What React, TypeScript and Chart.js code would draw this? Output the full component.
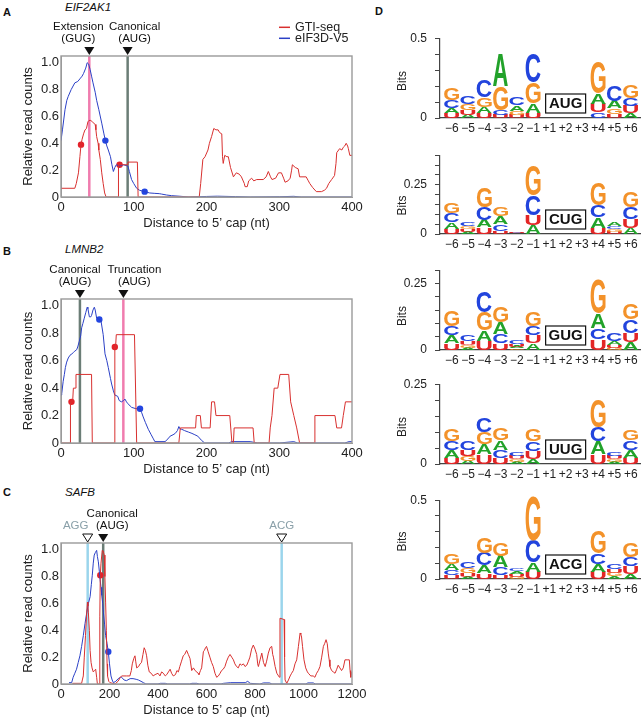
import React, { useEffect, useRef } from 'react';
import { Chart, registerables } from 'chart.js';

Chart.register(...registerables);

const FONT = '"Liberation Sans", Arial, Helvetica, sans-serif';

// ---------- Panel A : EIF2AK1 ----------
const aRedX = [0, 19, 21, 24, 26, 27.5, 29, 31, 33, 35, 37, 38.5, 41, 43, 47, 48, 49, 51, 52, 54, 56, 58, 60, 62, 79, 79, 92, 92, 105, 106, 190, 192, 195, 198, 202, 204, 207, 210, 213, 216, 218, 221, 222, 223, 225, 228, 230, 233, 237, 241, 245, 248, 252, 253, 256, 258, 262, 265, 269, 278, 282, 285, 288, 290, 295, 299, 303, 306, 308, 312, 315, 317, 318, 322, 326, 328, 337, 340, 342, 346, 351, 358, 362, 365, 368, 372, 376, 378, 379, 383, 386, 388, 390, 392, 394, 395, 397, 400];
const aRedY = [0.065, 0.065, 0.1, 0.18, 0.3, 0.39, 0.43, 0.47, 0.5, 0.51, 0.56, 0.57, 0.57, 0.56, 0.54, 0.5, 0.45, 0.4, 0.35, 0.28, 0.18, 0.1, 0.03, 0, 0, 0.24, 0.24, 0.26, 0.26, 0, 0, 0.1, 0.28, 0.3, 0.35, 0.4, 0.45, 0.51, 0.5, 0.5, 0.48, 0.47, 0.3, 0.25, 0.31, 0.3, 0.3, 0.22, 0.15, 0.18, 0.17, 0.15, 0.1, 0.077, 0.077, 0.12, 0.14, 0.12, 0.13, 0.13, 0.15, 0.19, 0.15, 0.13, 0.14, 0.18, 0.18, 0.14, 0.11, 0.12, 0.14, 0.2, 0.24, 0.22, 0.21, 0.15, 0.15, 0.12, 0.1, 0.07, 0.04, 0.04, 0.05, 0.065, 0.1, 0.13, 0.16, 0.25, 0.33, 0.36, 0.35, 0.37, 0.38, 0.4, 0.38, 0.36, 0.31, 0.31];
const aBlueX = [0, 2, 5.5, 8, 10, 14, 19, 23, 26, 29, 31, 34, 36, 38, 40, 42, 44, 47, 49, 52, 56, 59, 61, 63, 65, 68, 70, 72, 74, 76, 80, 86, 92, 94, 97, 100, 104, 108, 115, 122, 129, 135, 138, 145, 152, 165, 175, 200, 215, 240, 260, 300, 320, 330, 400];
const aBlueY = [0.42, 0.5, 0.65, 0.72, 0.75, 0.8, 0.85, 0.86, 0.88, 0.9, 0.92, 0.96, 1.0, 0.99, 0.95, 0.9, 0.85, 0.78, 0.72, 0.65, 0.55, 0.47, 0.42, 0.38, 0.35, 0.3, 0.24, 0.19, 0.22, 0.24, 0.23, 0.24, 0.23, 0.19, 0.13, 0.1, 0.065, 0.05, 0.04, 0.03, 0.027, 0.025, 0.022, 0.015, 0.01, 0.005, 0, 0.004, 0.006, 0.003, 0, 0.002, 0.005, 0, 0];
const aRedDotX = [27.5, 80.5];
const aRedDotY = [0.39, 0.24];
const aBlueDotX = [61, 115];
const aBlueDotY = [0.42, 0.04];
const aMarkX = [38.9, 91.6];
const aMarkText = [['Extension', '(GUG)'], ['Canonical', '(AUG)']];

// ---------- Panel B : LMNB2 ----------
const bRedX = [0, 13, 13, 16, 17, 20, 20.6, 42, 43, 73, 74, 75, 76, 101, 104, 162, 164, 185, 186, 191.5, 193, 205, 207, 211, 213, 232, 235, 237, 238, 264, 265.6, 286, 287.6, 290, 293, 298, 301, 313, 315.7, 320, 324, 328, 348, 349, 376.6, 379, 385.6, 388, 391, 400];
const bRedY = [0, 0, 0.3, 0.3, 0.4, 0.4, 0.5, 0.5, 0, 0, 0.7, 0.7, 0.79, 0.79, 0, 0, 0.11, 0.11, 0.2, 0.2, 0.11, 0.11, 0.3, 0.3, 0.2, 0.2, 0, 0, 0.11, 0.11, 0, 0, 0.11, 0.2, 0.4, 0.4, 0.5, 0.5, 0.3, 0.2, 0.11, 0, 0, 0.2, 0.2, 0.11, 0.11, 0.2, 0.3, 0.3];
const bBlueX = [0, 1, 3, 4.6, 6, 7.8, 10, 12.4, 15, 17, 19, 21.5, 23, 25, 27, 28.4, 30, 32, 34, 36, 37, 39, 41, 42, 44, 45.8, 47, 49, 52.7, 55, 58, 60.5, 63, 65, 68, 69.6, 72, 74, 78, 80, 83, 86, 88, 90, 91.5, 95, 97, 103, 108.6, 111, 113, 116, 120, 124, 127, 129, 143, 147, 150, 154, 157, 160, 162, 164, 166, 170, 175, 180, 184, 188, 193, 197.5, 230, 235, 260, 270, 300, 320, 325, 390, 396, 400];
const bBlueY = [0.35, 0.36, 0.45, 0.5, 0.55, 0.59, 0.62, 0.64, 0.65, 0.66, 0.67, 0.68, 0.7, 0.74, 0.78, 0.84, 0.87, 0.91, 0.95, 0.99, 0.98, 0.92, 0.92, 0.93, 0.97, 0.99, 0.97, 0.91, 0.9, 0.89, 0.79, 0.65, 0.6, 0.55, 0.47, 0.43, 0.38, 0.35, 0.34, 0.31, 0.3, 0.31, 0.32, 0.3, 0.29, 0.27, 0.26, 0.25, 0.25, 0.22, 0.19, 0.15, 0.1, 0.06, 0.03, 0.01, 0.01, 0.03, 0.05, 0.06, 0.07, 0.09, 0.12, 0.1, 0.1, 0.09, 0.08, 0.07, 0.06, 0.05, 0.02, 0, 0, 0.01, 0.01, 0, 0, 0.01, 0, 0, 0.01, 0.01];
const bRedDotX = [14.4, 74];
const bRedDotY = [0.3, 0.7];
const bBlueDotX = [52.7, 108.6];
const bBlueDotY = [0.9, 0.25];
const bMarkX = [26, 85.7];
const bMarkText = [['Canonical', '(AUG)'], ['Truncation', '(AUG)']];

// ---------- Panel C : SAFB ----------
const cRedX = [47, 85, 88, 92, 96, 101, 105, 109, 111, 113, 117, 120, 124, 128, 133, 138, 143, 147, 150, 158, 160, 162, 165, 170, 174, 178, 181, 184, 187, 190, 192, 197, 202, 223, 235, 245, 250, 270, 284, 290, 294, 300, 305, 308, 312, 320, 326, 332, 338, 343, 348, 353, 358, 364, 372, 380, 388, 400, 408, 415, 422, 430, 436, 443, 450, 456, 463, 472, 478, 484, 490, 497, 504, 510, 518, 525, 532, 539, 546, 553, 560, 565, 569, 575, 580, 587, 591, 596, 600, 607, 614, 621, 628, 635, 642, 649, 656, 662, 669, 676, 683, 690, 697, 704, 711, 717, 724, 731, 738, 745, 752, 759, 766, 773, 779, 786, 793, 800, 807, 811, 814, 821, 828, 835, 842, 848, 855, 862, 869, 873, 876, 883, 890, 897, 901, 903, 920, 922, 924, 931, 938, 945, 951, 958, 965, 972, 979, 986, 989, 992, 996, 1002, 1009, 1016, 1020, 1030, 1040, 1047, 1054, 1061, 1068, 1075, 1082, 1087, 1093, 1098, 1102, 1106, 1109, 1116, 1123, 1130, 1137, 1143, 1150, 1157, 1164, 1171, 1180, 1189, 1192, 1195, 1198, 1200];
const cRedY = [0.005, 0.005, 0.03, 0.06, 0.2, 0.36, 0.5, 0.61, 0.58, 0.53, 0.4, 0.25, 0.16, 0.12, 0.09, 0.1, 0.11, 0.05, 0, 0, 0.5, 0.81, 0.9, 0.995, 0.99, 0.96, 0.8, 0.61, 0.4, 0.15, 0.06, 0.02, 0.01, 0, 0.02, 0.05, 0.06, 0.06, 0.06, 0.1, 0.15, 0.19, 0.21, 0.17, 0.12, 0.13, 0.15, 0.16, 0.22, 0.27, 0.25, 0.21, 0.14, 0.09, 0.08, 0.06, 0.07, 0.08, 0.06, 0.09, 0.08, 0.06, 0.07, 0.09, 0.11, 0.08, 0.06, 0.07, 0.1, 0.09, 0.13, 0.17, 0.21, 0.22, 0.25, 0.22, 0.19, 0.1, 0.12, 0.1, 0.09, 0.08, 0.07, 0.1, 0.12, 0.24, 0.25, 0.27, 0.28, 0.24, 0.2, 0.16, 0.13, 0.08, 0.05, 0.06, 0.08, 0.1, 0.11, 0.13, 0.17, 0.2, 0.22, 0.2, 0.18, 0.15, 0.13, 0.12, 0.15, 0.14, 0.15, 0.13, 0.14, 0.17, 0.2, 0.26, 0.29, 0.26, 0.22, 0.15, 0.13, 0.18, 0.23, 0.16, 0.13, 0.17, 0.23, 0.27, 0.28, 0.22, 0.2, 0.13, 0.08, 0.06, 0.05, 0.49, 0.48, 0.2, 0.03, 0.005, 0.03, 0.06, 0.08, 0.1, 0.15, 0.18, 0.28, 0.38, 0.37, 0.35, 0.28, 0.18, 0.12, 0.09, 0.08, 0.06, 0.06, 0.05, 0.08, 0.1, 0.13, 0.2, 0.28, 0.3, 0.33, 0.3, 0.23, 0.18, 0.13, 0.1, 0.09, 0.08, 0.11, 0.14, 0.12, 0.1, 0.12, 0.18, 0.18, 0.18, 0.1, 0.05, 0.08, 0.09];
const cBlueX = [33, 44, 50, 57, 64, 71, 78, 85, 92, 99, 106, 113, 120, 125, 129, 133, 137, 142, 147, 150, 154, 158, 161, 165, 168, 172, 175, 180, 184, 190, 195, 200, 206, 211, 216, 226, 236, 245, 250, 260, 270, 285, 297, 310, 319, 330, 340, 350, 400, 410, 430, 440, 530, 540, 560, 570, 660, 670, 700, 760, 770, 780, 820, 835, 860, 870, 1010, 1018, 1040, 1050, 1200];
const cBlueY = [0.01, 0.01, 0.05, 0.08, 0.11, 0.16, 0.21, 0.28, 0.36, 0.45, 0.53, 0.6, 0.65, 0.74, 0.81, 0.9, 0.96, 0.98, 0.995, 0.95, 0.91, 0.84, 0.78, 0.72, 0.66, 0.6, 0.53, 0.44, 0.36, 0.3, 0.24, 0.15, 0.06, 0.03, 0.01, 0.02, 0.04, 0.05, 0.05, 0.03, 0.025, 0.04, 0.04, 0.035, 0.03, 0.02, 0.01, 0, 0, 0.005, 0.005, 0, 0, 0.005, 0.005, 0, 0, 0.005, 0.01, 0.01, 0.02, 0.005, 0, 0.008, 0.008, 0, 0, 0.008, 0.008, 0, 0];
const cRedDotX = [162];
const cRedDotY = [0.81];
const cBlueDotX = [195];
const cBlueDotY = [0.24];
const cMarkX = [110, 174, 910];
const cMarkText = [['AGG'], ['Canonical', '(AUG)'], ['ACG']];

// ---------- Panel D : sequence logos ----------
const logoPositions = ['\u22126', '\u22125', '\u22124', '\u22123', '\u22122', '\u22121', '+1', '+2', '+3', '+4', '+5', '+6'];
const logoLetters = ['A', 'C', 'G', 'U'];

const augA = [0.035, 0.02, 0.04, 0.2, 0.035, 0.06, 0, 0, 0, 0.065, 0.045, 0.03];
const augC = [0.045, 0.05, 0.11, 0.03, 0.045, 0.18, 0, 0, 0, 0.035, 0.095, 0.05];
const augG = [0.075, 0.04, 0.06, 0.15, 0.025, 0.13, 0, 0, 0, 0.2, 0.035, 0.085];
const augU = [0.03, 0.03, 0.03, 0.02, 0.02, 0.03, 0, 0, 0, 0.055, 0.025, 0.045];

const cugA = [0.035, 0.01, 0.037, 0.04, 0.002, 0.045, 0, 0, 0, 0.055, 0.018, 0.03];
const cugC = [0.045, 0.022, 0.065, 0.035, 0.003, 0.1, 0, 0, 0, 0.06, 0.016, 0.06];
const cugG = [0.055, 0.016, 0.1, 0.045, 0.002, 0.155, 0, 0, 0, 0.115, 0.014, 0.08];
const cugU = [0.025, 0.015, 0.035, 0.015, 0.004, 0.05, 0, 0, 0, 0.03, 0.012, 0.045];

const gugA = [0.03, 0.008, 0.038, 0.045, 0.007, 0.025, 0, 0, 0, 0.055, 0.015, 0.03];
const gugC = [0.035, 0.022, 0.08, 0.035, 0.012, 0.035, 0, 0, 0, 0.041, 0.03, 0.05];
const gugG = [0.06, 0.01, 0.07, 0.06, 0.006, 0.055, 0, 0, 0, 0.13, 0.008, 0.06];
const gugU = [0.025, 0.015, 0.035, 0.025, 0.01, 0.03, 0, 0, 0, 0.04, 0.01, 0.035];

const uugA = [0.025, 0.01, 0.032, 0.03, 0.006, 0.015, 0, 0, 0, 0.04, 0.006, 0.025];
const uugC = [0.028, 0.03, 0.045, 0.025, 0.011, 0.03, 0, 0, 0, 0.045, 0.012, 0.03];
const uugG = [0.035, 0.015, 0.038, 0.035, 0.008, 0.035, 0, 0, 0, 0.085, 0.008, 0.032];
const uugU = [0.02, 0.02, 0.03, 0.02, 0.01, 0.025, 0, 0, 0, 0.03, 0.01, 0.02];

const acgA = [0.04, 0.015, 0.05, 0.07, 0.018, 0.06, 0, 0, 0, 0.05, 0.018, 0.03];
const acgC = [0.03, 0.04, 0.08, 0.05, 0.02, 0.14, 0, 0, 0, 0.07, 0.035, 0.06];
const acgG = [0.07, 0.03, 0.1, 0.08, 0.014, 0.28, 0, 0, 0, 0.14, 0.022, 0.09];
const acgU = [0.025, 0.025, 0.035, 0.025, 0.016, 0.045, 0, 0, 0, 0.045, 0.026, 0.05];

// ---------- styles ----------
const RED = '#d8302f';
const BLUE = '#2b40c6';
const RED_DOT = '#e4222a';
const BLUE_DOT = '#2346e2';
const PINK = '#f07cae';
const GRAYLINE = '#6b7d76';
const CYAN = '#9bd5ec';
const LABEL_GRAY = '#8aa0a9';
const LETTER_COLORS: Record<string, string> = { A: '#22a22a', C: '#2244dd', G: '#f3922a', U: '#e32626' };

type MarkStyle = { color: string; hollow: boolean; dx: number; textColor: string };

const aMarkStyle: MarkStyle[] = [
  { color: PINK, hollow: false, dx: -11, textColor: '#111' },
  { color: GRAYLINE, hollow: false, dx: 7, textColor: '#111' },
];
const bMarkStyle: MarkStyle[] = [
  { color: GRAYLINE, hollow: false, dx: -5, textColor: '#111' },
  { color: PINK, hollow: false, dx: 11, textColor: '#111' },
];
const cMarkStyle: MarkStyle[] = [
  { color: CYAN, hollow: true, dx: -12, textColor: LABEL_GRAY },
  { color: GRAYLINE, hollow: false, dx: 9, textColor: '#111' },
  { color: CYAN, hollow: true, dx: 0, textColor: LABEL_GRAY },
];

function pts(xs: number[], ys: number[]) {
  return xs.map((x, i) => ({ x, y: ys[i] }));
}

type TraceProps = {
  top: number;
  height: number;
  padTop: number;
  xMax: number;
  xStep: number;
  redX: number[];
  redY: number[];
  blueX: number[];
  blueY: number[];
  redDotX: number[];
  redDotY: number[];
  blueDotX: number[];
  blueDotY: number[];
  markX: number[];
  markText: string[][];
  markStyle: MarkStyle[];
  legend: boolean;
};

function TraceChart(p: TraceProps) {
  const ref = useRef<HTMLCanvasElement | null>(null);
  useEffect(() => {
    if (!ref.current) return;
    const decor = {
      id: 'traceDecor',
      beforeDatasetsDraw(chart: any) {
        const { ctx, chartArea: ca, scales } = chart;
        const x = scales.x;
        ctx.save();
        ctx.beginPath();
        ctx.rect(ca.left, ca.top, ca.right - ca.left, ca.bottom - ca.top);
        ctx.clip();
        p.markX.forEach((mx, i) => {
          const px = x.getPixelForValue(mx);
          ctx.strokeStyle = p.markStyle[i].color;
          ctx.lineWidth = 2.5;
          ctx.beginPath();
          ctx.moveTo(px, ca.top);
          ctx.lineTo(px, ca.bottom);
          ctx.stroke();
        });
        ctx.restore();
      },
      afterDraw(chart: any) {
        const { ctx, chartArea: ca, scales } = chart;
        const x = scales.x;
        ctx.save();
        ctx.strokeStyle = '#9a9a9a';
        ctx.lineWidth = 1.4;
        ctx.strokeRect(ca.left, ca.top, ca.right - ca.left, ca.bottom - ca.top);
        p.markX.forEach((mx, i) => {
          const st = p.markStyle[i];
          const px = x.getPixelForValue(mx);
          ctx.beginPath();
          ctx.moveTo(px - 5, ca.top - 9);
          ctx.lineTo(px + 5, ca.top - 9);
          ctx.lineTo(px, ca.top - 1);
          ctx.closePath();
          if (st.hollow) {
            ctx.fillStyle = '#fff';
            ctx.fill();
            ctx.strokeStyle = '#111';
            ctx.lineWidth = 1;
            ctx.stroke();
          } else {
            ctx.fillStyle = '#111';
            ctx.fill();
          }
          const lines = p.markText[i];
          ctx.fillStyle = st.textColor;
          ctx.font = `11.5px ${FONT}`;
          ctx.textAlign = 'center';
          ctx.textBaseline = 'middle';
          const n = lines.length;
          lines.forEach((t, k) => {
            const yy = ca.top - 17.5 - (n - 1 - k) * 12;
            ctx.fillText(t, px + st.dx, yy);
          });
        });
        if (p.legend) {
          const ds = chart.data.datasets;
          ctx.font = `12.5px ${FONT}`;
          ctx.textAlign = 'left';
          ctx.textBaseline = 'middle';
          [0, 1].forEach((k) => {
            const yy = 27.3 + k * 11;
            ctx.strokeStyle = ds[k].borderColor;
            ctx.lineWidth = 1.5;
            ctx.beginPath();
            ctx.moveTo(279, yy);
            ctx.lineTo(290, yy);
            ctx.stroke();
            ctx.fillStyle = '#222';
            ctx.fillText(ds[k].label, 295, yy);
          });
        }
        ctx.restore();
      },
    };
    const chart = new Chart(ref.current, {
      type: 'line',
      data: {
        datasets: [
          { label: 'GTI-seq', data: pts(p.redX, p.redY), borderColor: RED, borderWidth: 1, pointRadius: 0, tension: 0 },
          { label: 'eIF3D-V5', data: pts(p.blueX, p.blueY), borderColor: BLUE, borderWidth: 1, pointRadius: 0, tension: 0 },
          { label: 'GTI-seq peak', data: pts(p.redDotX, p.redDotY), showLine: false, pointRadius: 3.2, pointBackgroundColor: RED_DOT, pointBorderWidth: 0, borderColor: RED_DOT },
          { label: 'eIF3D peak', data: pts(p.blueDotX, p.blueDotY), showLine: false, pointRadius: 3.2, pointBackgroundColor: BLUE_DOT, pointBorderWidth: 0, borderColor: BLUE_DOT },
        ],
      },
      options: {
        animation: false,
        responsive: false,
        maintainAspectRatio: false,
        layout: { padding: { top: p.padTop, right: 18, left: 17, bottom: 0 } },
        plugins: { legend: { display: false }, tooltip: { enabled: false } },
        scales: {
          x: {
            type: 'linear',
            min: 0,
            max: p.xMax,
            ticks: {
              stepSize: p.xStep,
              font: { size: 13, family: FONT },
              color: '#222',
              padding: 3,
              maxRotation: 0,
              autoSkip: false,
              includeBounds: false,
              callback: (v: any) => String(v),
            },
            grid: { drawOnChartArea: false, drawTicks: false },
            border: { color: '#9a9a9a', width: 1 },
            title: { display: true, text: 'Distance to 5\u2019 cap (nt)', font: { size: 13, family: FONT }, color: '#222', padding: { top: 0, bottom: 4 } },
            afterFit: (s: any) => { s.height = 38; },
          },
          y: {
            type: 'linear',
            min: 0,
            max: 1.05,
            ticks: {
              stepSize: 0.2,
              includeBounds: false,
              font: { size: 13, family: FONT },
              color: '#222',
              padding: 2,
              callback: (v: any) => (v === 0 ? '0' : Number(v).toFixed(1)),
            },
            grid: { drawOnChartArea: false, drawTicks: false },
            border: { color: '#9a9a9a', width: 1 },
            title: { display: true, text: 'Relative read counts', font: { size: 13, family: FONT }, color: '#222', padding: { top: 4, bottom: 0 } },
            afterFit: (s: any) => { s.width = 44; },
          },
        },
      } as any,
      plugins: [decor],
    });
    return () => chart.destroy();
  }, []);
  return (
    <canvas
      ref={ref}
      width={370}
      height={p.height}
      style={{ position: 'absolute', left: 0, top: p.top, width: 370, height: p.height }}
    />
  );
}

function drawLetter(ctx: CanvasRenderingContext2D, ch: string, x: number, y: number, w: number, h: number, color: string) {
  if (h < 0.25 || w <= 0) return;
  ctx.save();
  ctx.font = `bold 100px ${FONT}`;
  ctx.textAlign = 'left';
  ctx.textBaseline = 'alphabetic';
  const m = ctx.measureText(ch);
  const gw = m.actualBoundingBoxLeft + m.actualBoundingBoxRight;
  const gh = m.actualBoundingBoxAscent + m.actualBoundingBoxDescent;
  ctx.translate(x, y);
  ctx.scale(w / gw, h / gh);
  ctx.fillStyle = color;
  ctx.fillText(ch, m.actualBoundingBoxLeft, m.actualBoundingBoxAscent);
  ctx.restore();
}

type LogoProps = {
  plotTop: number;
  plotBottom: number;
  yMax: number;
  yStep: number;
  yLabel: number;
  titleShift: number;
  codon: string;
  A: number[];
  C: number[];
  G: number[];
  U: number[];
};

function LogoChart(p: LogoProps) {
  const ref = useRef<HTMLCanvasElement | null>(null);
  const padTop = 12;
  const xAxisH = 22;
  const canvasTop = p.plotTop - padTop;
  const height = p.plotBottom - p.plotTop + padTop + xAxisH;
  useEffect(() => {
    if (!ref.current) return;
    const letters = {
      id: 'logoLetters',
      afterDatasetsDraw(chart: any) {
        const { ctx, scales } = chart;
        const x = scales.x;
        const y = scales.y;
        const ds = chart.data.datasets;
        for (let i = 0; i < logoPositions.length; i++) {
          const items = ds
            .map((d: any) => ({ L: d.label, h: d.data[i].y }))
            .filter((o: any) => o.h > 0)
            .sort((a: any, b: any) => a.h - b.h);
          let cum = 0;
          const xl = x.getPixelForValue(i - 0.46);
          const xr = x.getPixelForValue(i + 0.46);
          items.forEach((o: any) => {
            const yb = y.getPixelForValue(cum);
            const yt = y.getPixelForValue(cum + o.h);
            cum += o.h;
            drawLetter(ctx, o.L, xl, yt, xr - xl, yb - yt, LETTER_COLORS[o.L]);
          });
        }
        // codon box
        const xc = x.getPixelForValue(7);
        const y0 = y.getPixelForValue(0);
        ctx.save();
        ctx.strokeStyle = '#111';
        ctx.lineWidth = 1.2;
        ctx.strokeRect(xc - 20, y0 - 24, 40, 19);
        ctx.fillStyle = '#111';
        ctx.font = `bold 15px ${FONT}`;
        ctx.textAlign = 'center';
        ctx.textBaseline = 'middle';
        ctx.fillText(p.codon, xc, y0 - 14.2);
        // axis title
        ctx.font = `12px ${FONT}`;
        ctx.fillStyle = '#222';
        ctx.translate(y.left + 11, (y.top + y.bottom) / 2 + p.titleShift);
        ctx.rotate(-Math.PI / 2);
        ctx.fillText('Bits', 0, 0);
        ctx.restore();
      },
    };
    const sets = [p.A, p.C, p.G, p.U];
    const chart = new Chart(ref.current, {
      type: 'bar',
      data: {
        datasets: logoLetters.map((L, k) => ({
          label: L,
          data: sets[k].map((v, i) => ({ x: i, y: v })),
          backgroundColor: 'rgba(0,0,0,0)',
          borderWidth: 0,
          stack: 'logo',
        })),
      },
      options: {
        animation: false,
        responsive: false,
        maintainAspectRatio: false,
        layout: { padding: { top: padTop, right: 2, left: 12, bottom: 0 } },
        plugins: { legend: { display: false }, tooltip: { enabled: false } },
        scales: {
          x: {
            type: 'linear',
            stacked: true,
            offset: false,
            min: -0.72,
            max: 11.57,
            ticks: {
              stepSize: 1,
              includeBounds: false,
              autoSkip: false,
              maxRotation: 0,
              font: { size: 12, family: FONT },
              color: '#222',
              padding: 3,
              callback: (v: any) => logoPositions[v] ?? '',
            },
            grid: { display: false, drawTicks: false, offset: false },
            border: { display: true, color: '#444', width: 1.2 },
            afterFit: (s: any) => { s.height = xAxisH; },
          },
          y: {
            type: 'linear',
            stacked: true,
            min: 0,
            max: p.yMax,
            ticks: {
              stepSize: p.yStep,
              includeBounds: false,
              autoSkip: false,
              font: { size: 12, family: FONT },
              color: '#222',
              padding: 8,
              callback: (v: any) => (v === 0 ? '0' : Math.abs(v - p.yLabel) < 1e-6 ? String(p.yLabel) : ''),
            },
            grid: { drawOnChartArea: false, drawTicks: true, tickLength: 5, color: '#444' },
            border: { display: true, color: '#444', width: 1.2 },
            afterFit: (s: any) => { s.width = 48; },
          },
        },
      } as any,
      plugins: [letters],
    });
    return () => chart.destroy();
  }, []);
  return (
    <canvas
      ref={ref}
      width={262}
      height={height}
      style={{ position: 'absolute', left: 380, top: canvasTop, width: 262, height }}
    />
  );
}

function Label(props: { text: string; left: number; cy: number; size: number; bold?: boolean; italic?: boolean }) {
  const h = props.size;
  return (
    <div
      style={{
        position: 'absolute',
        left: props.left,
        top: props.cy - h / 2,
        height: h,
        lineHeight: `${h}px`,
        fontSize: props.size,
        fontFamily: FONT,
        fontWeight: props.bold ? 'bold' : 'normal',
        fontStyle: props.italic ? 'italic' : 'normal',
        color: '#111',
        whiteSpace: 'nowrap',
      }}
    >
      {props.text}
    </div>
  );
}

export default function App() {
  return (
    <div style={{ position: 'absolute', left: 0, top: 0, width: 642, height: 717, background: '#fff', overflow: 'hidden' }}>
      <Label text="A" left={3} cy={12.5} size={11} bold />
      <Label text="EIF2AK1" left={65} cy={7.5} size={11.5} italic />
      <Label text="B" left={3} cy={251.7} size={11} bold />
      <Label text="LMNB2" left={65} cy={250} size={11.5} italic />
      <Label text="C" left={3} cy={492} size={11} bold />
      <Label text="SAFB" left={65} cy={492.5} size={11.5} italic />
      <Label text="D" left={375} cy={11} size={11} bold />

      <TraceChart top={0} height={235} padTop={56} xMax={400} xStep={100}
        redX={aRedX} redY={aRedY} blueX={aBlueX} blueY={aBlueY}
        redDotX={aRedDotX} redDotY={aRedDotY} blueDotX={aBlueDotX} blueDotY={aBlueDotY}
        markX={aMarkX} markText={aMarkText} markStyle={aMarkStyle} legend={true} />
      <TraceChart top={240} height={241} padTop={59} xMax={400} xStep={100}
        redX={bRedX} redY={bRedY} blueX={bBlueX} blueY={bBlueY}
        redDotX={bRedDotX} redDotY={bRedDotY} blueDotX={bBlueDotX} blueDotY={bBlueDotY}
        markX={bMarkX} markText={bMarkText} markStyle={bMarkStyle} legend={false} />
      <TraceChart top={480} height={242} padTop={63} xMax={1200} xStep={200}
        redX={cRedX} redY={cRedY} blueX={cBlueX} blueY={cBlueY}
        redDotX={cRedDotX} redDotY={cRedDotY} blueDotX={cBlueDotX} blueDotY={cBlueDotY}
        markX={cMarkX} markText={cMarkText} markStyle={cMarkStyle} legend={false} />

      <LogoChart plotTop={35} plotBottom={118} yMax={0.5} yStep={0.1} yLabel={0.5} titleShift={3} codon="AUG" A={augA} C={augC} G={augG} U={augU} />
      <LogoChart plotTop={152} plotBottom={234} yMax={0.4} yStep={0.05} yLabel={0.25} titleShift={11} codon="CUG" A={cugA} C={cugC} G={cugG} U={cugU} />
      <LogoChart plotTop={267} plotBottom={350} yMax={0.3} yStep={0.05} yLabel={0.25} titleShift={6} codon="GUG" A={gugA} C={gugC} G={gugG} U={gugU} />
      <LogoChart plotTop={381} plotBottom={464} yMax={0.25} yStep={0.05} yLabel={0.25} titleShift={3} codon="UUG" A={uugA} C={uugC} G={uugG} U={uugU} />
      <LogoChart plotTop={497} plotBottom={579} yMax={0.5} yStep={0.1} yLabel={0.5} titleShift={2} codon="ACG" A={acgA} C={acgC} G={acgG} U={acgU} />
    </div>
  );
}
